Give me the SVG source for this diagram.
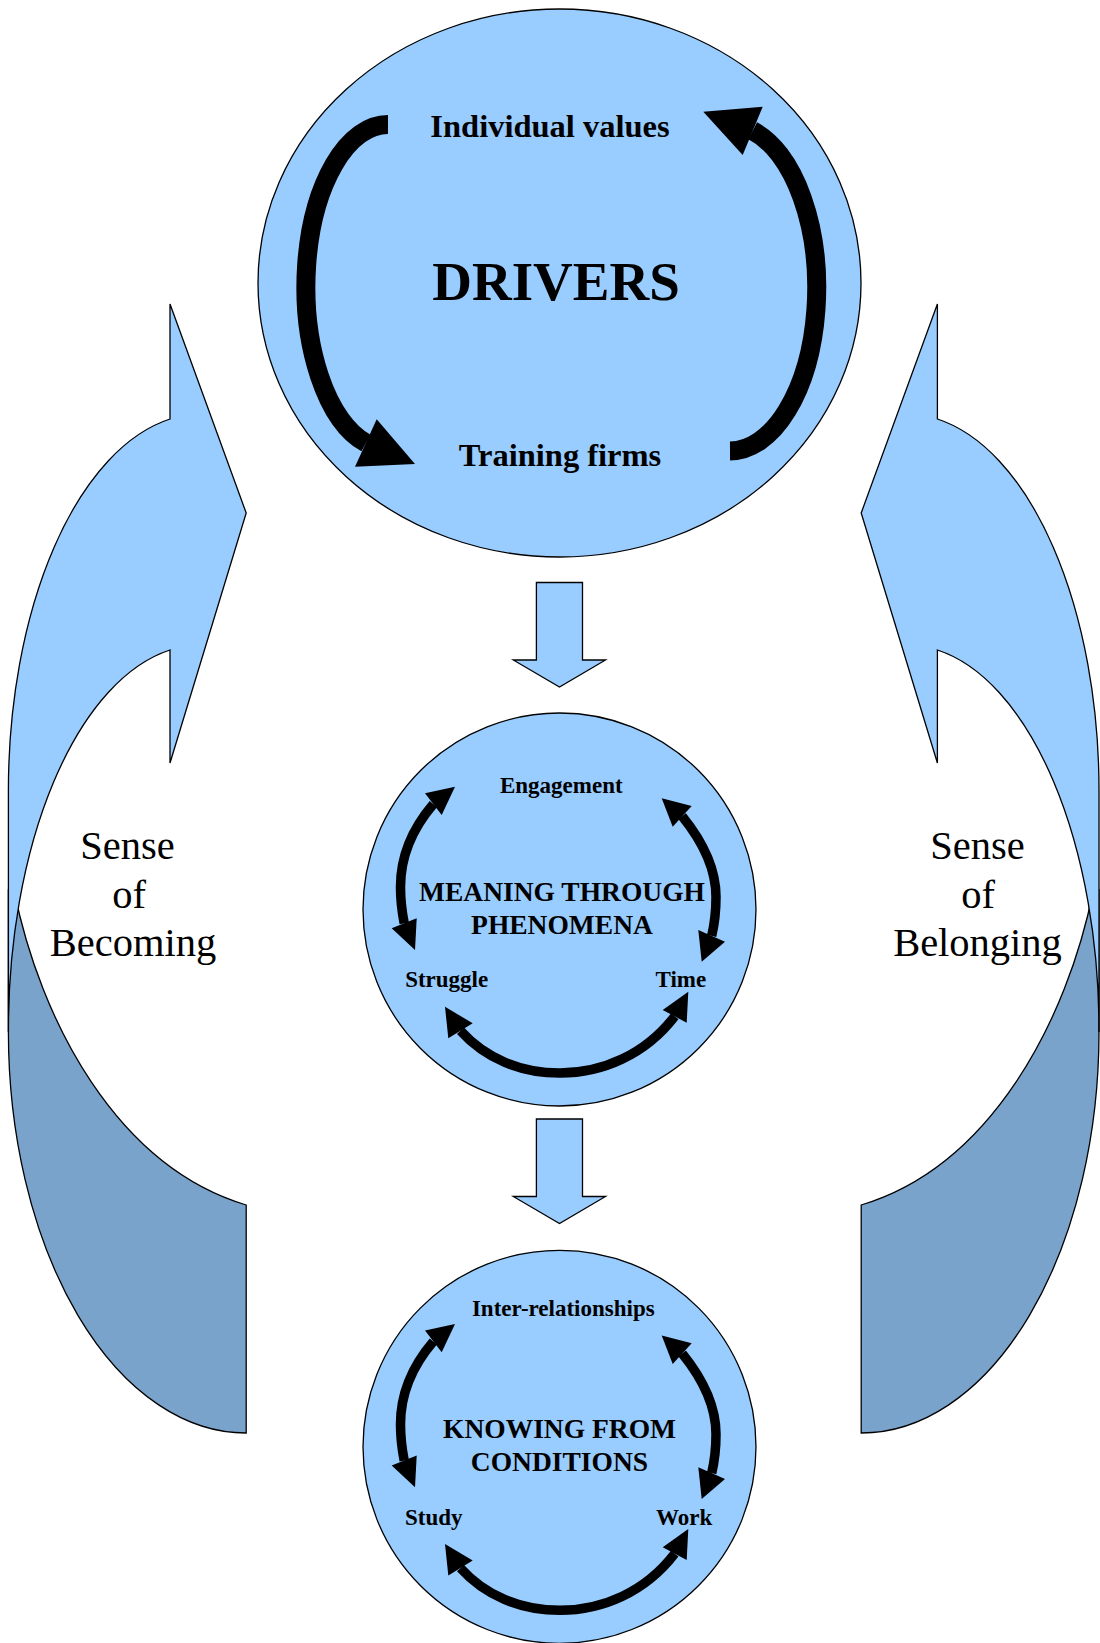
<svg xmlns="http://www.w3.org/2000/svg" xmlns:xlink="http://www.w3.org/1999/xlink" width="1100" height="1643" viewBox="0 0 1100 1643">
<style>
.lt{fill:#99ccff;stroke:#000;stroke-width:1.3}
.dk{fill:#7aa3cc;stroke:#000;stroke-width:1.3}
.b{font-family:"Liberation Serif","Times New Roman",serif;font-weight:bold;text-anchor:middle;fill:#000}
.r{font-family:"Liberation Serif","Times New Roman",serif;text-anchor:middle;fill:#000}
.sh{fill:none;stroke:#000}
</style>
<defs>
<g id="cyc">
<path class="sh" stroke-width="9.5" d="M433.3,804.2 C413,828 400.5,855 400.5,887 C400.5,900 402,912 404.2,923.3"/>
<polygon points="455,786.7 425,793.3 441.7,815"/>
<polygon points="415,950 391.7,928.3 416.7,918.3"/>
<path class="sh" stroke-width="9.5" d="M682.2,816.3 C703,842 716,868 716,897 C716,911 714.5,924 711.7,935.8"/>
<polygon points="661.7,798.3 691.7,806 672.7,826.7"/>
<polygon points="701.7,961.7 698.3,930 725,941.7"/>
<path class="sh" stroke-width="9.5" d="M460.5,1030.8 C485,1058 520,1073 560,1073 C602,1073 645,1055 674.7,1016.3"/>
<polygon points="445,1006.7 448.3,1038.3 472.7,1023.3"/>
<polygon points="688.3,991.7 662.7,1010 686.7,1022.7"/>
</g>
<g id="uarrow">
<path class="dk" d="M8.4,1032 A237.8,401 0 0 0 246.2,1433 L246.2,1205 C116.2,1166 40,1020 14,890 L8.4,890 Z"/>
<path class="lt" d="M170,419 A193.5,376.3 0 0 0 8.4,790 L8.4,1032 A192.4,385 0 0 1 170,650 L170,763 L246.2,513 L170,304 Z"/>
</g>
<path id="down" class="lt" d="M536.4,582.5 H582.5 V660 H605.5 L559.5,687 L513.3,660 H536.4 Z"/>
</defs>
<rect width="1100" height="1643" fill="#fff"/>

<g id="becoming">
<use xlink:href="#uarrow" href="#uarrow"/>
<text class="r" font-size="40.5" x="127.5" y="859">Sense</text>
<text class="r" font-size="40.5" x="129" y="907.5">of</text>
<text class="r" font-size="40.5" x="133" y="956">Becoming</text>
</g>

<g id="belonging">
<use xlink:href="#uarrow" href="#uarrow" transform="translate(1107.4,0) scale(-1,1)"/>
<text class="r" font-size="40.5" x="977.5" y="859">Sense</text>
<text class="r" font-size="40.5" x="978" y="907.5">of</text>
<text class="r" font-size="40.5" x="977.5" y="956">Belonging</text>
</g>

<g id="drivers">
<ellipse class="lt" cx="559.5" cy="283" rx="301.5" ry="274"/>
<path class="sh" stroke-width="19" d="M388,124.5 A82,162.2 0 0 0 366,443"/>
<polygon points="355,466.7 415,464 376.7,419.3"/>
<path class="sh" stroke-width="19" d="M730,451 A87,163 0 0 0 752.7,130.8"/>
<polygon points="703.3,111.7 762.7,106.7 742.7,155"/>
<text class="b" font-size="32.5" x="550" y="137">Individual values</text>
<text class="b" font-size="55" x="556" y="300">DRIVERS</text>
<text class="b" font-size="32.5" x="560" y="466">Training firms</text>
</g>

<g id="connectors">
<use xlink:href="#down" href="#down"/>
<use xlink:href="#down" href="#down" transform="translate(0,536.5)"/>
</g>

<g id="meaning">
<circle class="lt" cx="559.5" cy="909.5" r="196.5"/>
<use xlink:href="#cyc" href="#cyc"/>
<text class="b" font-size="23" x="561.3" y="792.7">Engagement</text>
<text class="b" font-size="27.5" x="562" y="901">MEANING THROUGH</text>
<text class="b" font-size="27.5" x="562" y="934">PHENOMENA</text>
<text class="b" font-size="23" x="446.7" y="987">Struggle</text>
<text class="b" font-size="23" x="680.8" y="987">Time</text>
</g>

<g id="knowing">
<circle class="lt" cx="559.5" cy="1446.8" r="196.5"/>
<use xlink:href="#cyc" href="#cyc" transform="translate(0,537.3)"/>
<text class="b" font-size="23" x="563.3" y="1316">Inter-relationships</text>
<text class="b" font-size="27.5" x="559.5" y="1438.3">KNOWING FROM</text>
<text class="b" font-size="27.5" x="559.5" y="1470.7">CONDITIONS</text>
<text class="b" font-size="23" x="433.8" y="1525">Study</text>
<text class="b" font-size="23" x="684.2" y="1525">Work</text>
</g>
</svg>
